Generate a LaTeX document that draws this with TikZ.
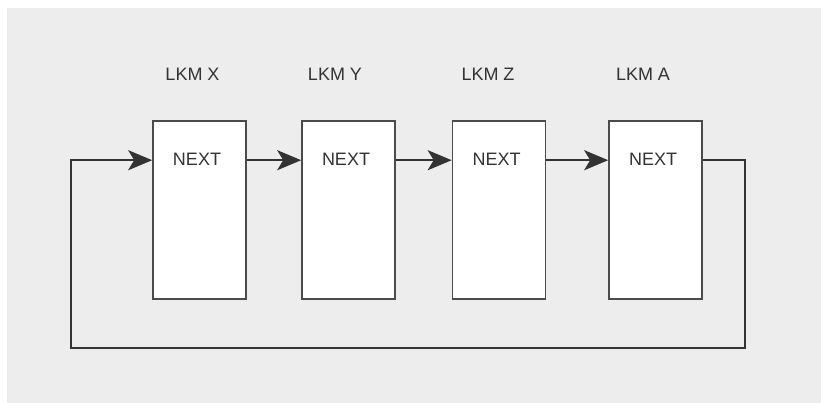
\documentclass[tikz,border=0pt]{standalone}
\usepackage{fontspec}
\setmainfont{Liberation Sans}
\usetikzlibrary{arrows.meta}
\definecolor{panel}{RGB}{236,237,236}
\definecolor{ink}{RGB}{51,51,51}
\definecolor{boxline}{RGB}{75,75,75}
\begin{document}
\begin{tikzpicture}[x=1pt,y=-1pt,
  lkmbox/.style={draw=boxline, line width=1.6pt, fill=white, minimum width=93pt, minimum height=178pt, inner sep=0pt},
  boxtext/.style={text=ink, font=\fontsize{18pt}{20pt}\selectfont, inner sep=0pt},
  link/.style={draw=ink, line width=2.3pt, line join=miter, -{Stealth[length=24pt, width=20pt, inset=6pt]}}]
  \useasboundingbox (0,0) rectangle (821,403);
  \fill[panel] (7,8) rectangle (821,403);

  % list elements
  \node[lkmbox] (b1) at (199.5,210) {};
  \node[lkmbox] (b2) at (348.5,210) {};
  \node[lkmbox] (b3) at (499,210) {};
  \node[lkmbox] (b4) at (655.5,210) {};

  % module names
  \node[boxtext] (l1) at (192.5,74) {LKM X};
  \node[boxtext] (l2) at (335,74) {LKM Y};
  \node[boxtext] (l3) at (488,74) {LKM Z};
  \node[boxtext] (l4) at (643,74) {LKM A};

  % next fields
  \node[boxtext] (n1) at (197,159.5) {NEXT};
  \node[boxtext] (n2) at (346,159.5) {NEXT};
  \node[boxtext] (n3) at (496.5,159.5) {NEXT};
  \node[boxtext] (n4) at (653,159.5) {NEXT};

  % ports where the links leave and enter
  \foreach \i in {1,...,4}{
    \coordinate (in\i) at ([yshift=-40pt]b\i.north west);
    \coordinate (out\i) at ([yshift=-40pt]b\i.north east);
  }

  \draw[link] (out1) -- (in2);
  \draw[link] (out2) -- (in3);
  \draw[link] (out3) -- (in4);

  % wrap-around link from the last element back to the first
  \coordinate (c1) at (out4 -| 745,0);
  \coordinate (c2) at (745,348);
  \coordinate (c3) at (71,348);
  \coordinate (c4) at (in1 -| 71,0);
  \draw[link] (out4) -- (c1) -- (c2) -- (c3) -- (c4) -- (in1);
\end{tikzpicture}
\end{document}
